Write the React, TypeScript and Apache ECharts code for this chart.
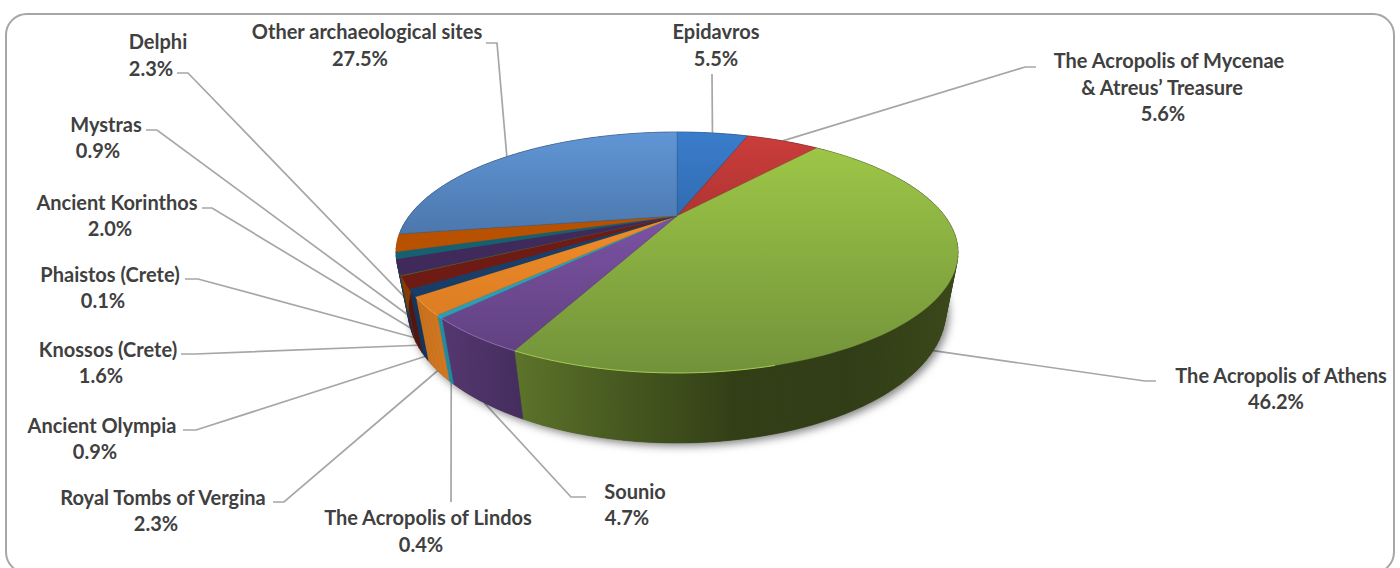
import React, { useEffect, useRef } from "react";
import * as echarts from "echarts";

const categories = [
  "Epidavros",
  "The Acropolis of Mycenae\n& Atreus’ Treasure",
  "The Acropolis of Athens",
  "Sounio",
  "The Acropolis of Lindos",
  "Royal Tombs of Vergina",
  "Ancient Olympia",
  "Knossos (Crete)",
  "Phaistos (Crete)",
  "Ancient Korinthos",
  "Mystras",
  "Delphi",
  "Other archaeological sites",
];
const shares = [5.5, 5.6, 46.2, 4.7, 0.4, 2.3, 0.9, 1.6, 0.1, 2.0, 0.9, 2.3, 27.5];

// Top-face colours: colour at the far edge, colour at the near edge of the disc
const topColors = [
  ["#3a7dcc", "#1f4b7e"],
  ["#cc3d3b", "#7a2524"],
  ["#a0ca48", "#72923a"],
  ["#8a5cb8", "#5e3f7c"],
  ["#2ea6c0", "#2a9ab2"],
  ["#ff9a30", "#d2741e"],
  ["#1b4472", "#163a62"],
  ["#701c16", "#6c1a14"],
  ["#566a22", "#566a22"],
  ["#402a5c", "#402a5c"],
  ["#17606f", "#17606f"],
  ["#b85200", "#b85200"],
  ["#6096d6", "#2f4d73"],
];
const wallColors = [
  ["#1f4b7e", "#1f4b7e"],
  ["#7a2524", "#7a2524"],
  ["#5d742a", "#46581f", "#323f16", "#313d16", "#3a4819"],
  ["#54376f", "#452d5e"],
  ["#258fa6", "#2088a0"],
  ["#c9701d", "#d27820"],
  ["#14345a", "#14345a"],
  ["#541410", "#541410"],
  ["#3d4b18", "#3d4b18"],
  ["#2e1e43", "#2e1e43"],
  ["#104652", "#104652"],
  ["#8a3d00", "#8a3d00"],
  ["#2f4d73", "#2f4d73"],
];
const rimColors = [null, null, "#a3cb52", "#8d6ab5", "#3fb4cc", "#f29a45", null, null, null, null, null, null, null];

// Text layout: one [centreX, centreY] per text line, the last line being the percentage
const labelLines = [
  [[716, 31], [716, 58]],
  [[1169, 60], [1162, 87], [1163, 113]],
  [[1281, 375], [1276, 401]],
  [[635, 491], [627, 517]],
  [[428, 517], [421, 544]],
  [[163, 497], [156, 523]],
  [[102, 425], [95, 451]],
  [[108, 349], [101, 375]],
  [[110, 274], [103, 300]],
  [[117, 202], [110, 228]],
  [[106, 124], [98, 150]],
  [[158, 41], [151, 68]],
  [[367, 31], [360, 58]],
];
// Leader routing away from the slice: elbow, then end beside the text
const leaderRoutes = [
  [[712, 74]],
  [[1025, 67], [1036, 67]],
  [[1145, 381], [1156, 381]],
  [[571, 497], [586, 497]],
  [[451, 502]],
  [[284, 502], [273, 502]],
  [[196, 430], [183, 430]],
  [[195, 354], [181, 354]],
  [[198, 279], [185, 279]],
  [[212, 208], [202, 208]],
  [[157, 130], [146, 130]],
  [[188, 73], [177, 73]],
  [[497, 43], [486, 43]],
];

// Perspective projection of the disc
const CX = 677, CY = 216, AX = 267.8, BY = 109.4, K = 0.303, DM = 0.041, DH = 58.1;
const FONT = 'bold 20px Lato, "Open Sans", sans-serif';

function project(deg: number, lower: boolean): number[] {
  const t = (deg * Math.PI) / 180;
  const u = Math.sin(t), v = Math.cos(t);
  const w = 1 + K * v + (lower ? DM : 0);
  return [CX + (AX * u) / w, CY + (-BY * v + (lower ? DH : 0)) / w];
}
function arc(a0: number, a1: number, lower: boolean, step = 1.5): number[][] {
  const n = Math.max(2, Math.ceil((a1 - a0) / step));
  const pts: number[][] = [];
  for (let i = 0; i <= n; i++) pts.push(project(a0 + ((a1 - a0) * i) / n, lower));
  return pts;
}
const total = shares.reduce((a, b) => a + b, 0);
function sliceAngles(i: number): number[] {
  let s = 0;
  for (let k = 0; k < i; k++) s += shares[k];
  return [(s / total) * 360, ((s + shares[i]) / total) * 360];
}

function evenStops(cols: string[]) {
  return cols.map((color, i) => ({ offset: i / Math.max(1, cols.length - 1), color }));
}

export default function App() {
  const ref = useRef<HTMLDivElement>(null);
  useEffect(() => {
    document.body.style.margin = "0";
    const chart = echarts.init(ref.current!, null, { renderer: "svg" });
    const data = shares.map((v) => [v]);
    const idx = (p: any) => p.dataIndex as number;

    chart.setOption({
      animation: false,
      backgroundColor: "#ffffff",
      graphic: [
        {
          type: "rect",
          silent: true,
          shape: { x: 6, y: 14, width: 1388, height: 559, r: 21 },
          style: { fill: "#ffffff", stroke: "#a6a6a6", lineWidth: 2 },
          z: 0,
        },
      ],
      series: [
        {
          // leader lines and labels
          type: "custom",
          coordinateSystem: "none",
          z: 2,
          silent: true,
          data,
          renderItem: (p: any) => {
            const i = idx(p);
            const [a0, a1] = sliceAngles(i);
            const mid = (a0 + a1) / 2;
            const front = Math.cos((mid * Math.PI) / 180) < 0;
            const start = project(mid, front);
            const lines = categories[i].split("\n").concat(shares[i].toFixed(1) + "%");
            return {
              type: "group",
              children: [
                {
                  type: "polyline",
                  shape: { points: [start, ...leaderRoutes[i]] },
                  style: { fill: "none", stroke: "#a6a6a6", lineWidth: 1.7 },
                },
                ...lines.map((text, k) => ({
                  type: "text",
                  style: {
                    text,
                    x: labelLines[i][k][0],
                    y: labelLines[i][k][1],
                    align: "center",
                    verticalAlign: "middle",
                    font: FONT,
                    fill: "#404040",
                  },
                })),
              ],
            };
          },
        },
        {
          // soft shadow under the disc
          type: "custom",
          coordinateSystem: "none",
          z: 3,
          silent: true,
          data: [[total]],
          renderItem: () => ({
            type: "polygon",
            shape: { points: arc(0, 360, true) },
            style: {
              fill: "#444444",
              shadowBlur: 8,
              shadowColor: "rgba(0,0,0,0.5)",
              shadowOffsetX: 3,
              shadowOffsetY: 3,
            },
          }),
        },
        {
          // side walls: one swept quad per arc step
          type: "custom",
          coordinateSystem: "none",
          z: 4,
          silent: true,
          data,
          renderItem: (p: any) => {
            const i = idx(p);
            const [a0, a1] = sliceAngles(i);
            const up = arc(a0, a1, false, 2);
            const lo = arc(a0, a1, true, 2);
            const xs = [...up, ...lo].map((q) => q[0]);
            const paint = new echarts.graphic.LinearGradient(
              Math.min(...xs), 0, Math.max(...xs), 0, evenStops(wallColors[i]), true
            );
            const children: any[] = [];
            for (let k = 0; k < up.length - 1; k++) {
              children.push({
                type: "polygon",
                shape: { points: [up[k], up[k + 1], lo[k + 1], lo[k]] },
                style: { fill: paint, stroke: paint, lineWidth: 0.6 },
              });
            }
            return { type: "group", children };
          },
        },
        {
          // top faces
          type: "custom",
          coordinateSystem: "none",
          z: 5,
          silent: true,
          data,
          renderItem: (p: any) => {
            const i = idx(p);
            const [a0, a1] = sliceAngles(i);
            const pts = [[CX, CY], ...arc(a0, a1, false)];
            const children: any[] = [
              {
                type: "polygon",
                shape: { points: pts },
                style: {
                  fill: new echarts.graphic.LinearGradient(0, 132, 0, 373, evenStops(topColors[i]), true),
                  stroke: topColors[i][1],
                  lineWidth: 0.3,
                },
              },
            ];
            if (rimColors[i]) {
              const b0 = Math.max(a0, 165);
              children.push({
                type: "polyline",
                shape: { points: arc(b0, a1, false) },
                style: { fill: "none", stroke: rimColors[i], lineWidth: 1 },
              });
            }
            return { type: "group", children };
          },
        },
      ],
    });
    return () => chart.dispose();
  }, []);
  return <div ref={ref} style={{ position: "absolute", left: 0, top: 0, width: 1400, height: 568 }} />;
}
